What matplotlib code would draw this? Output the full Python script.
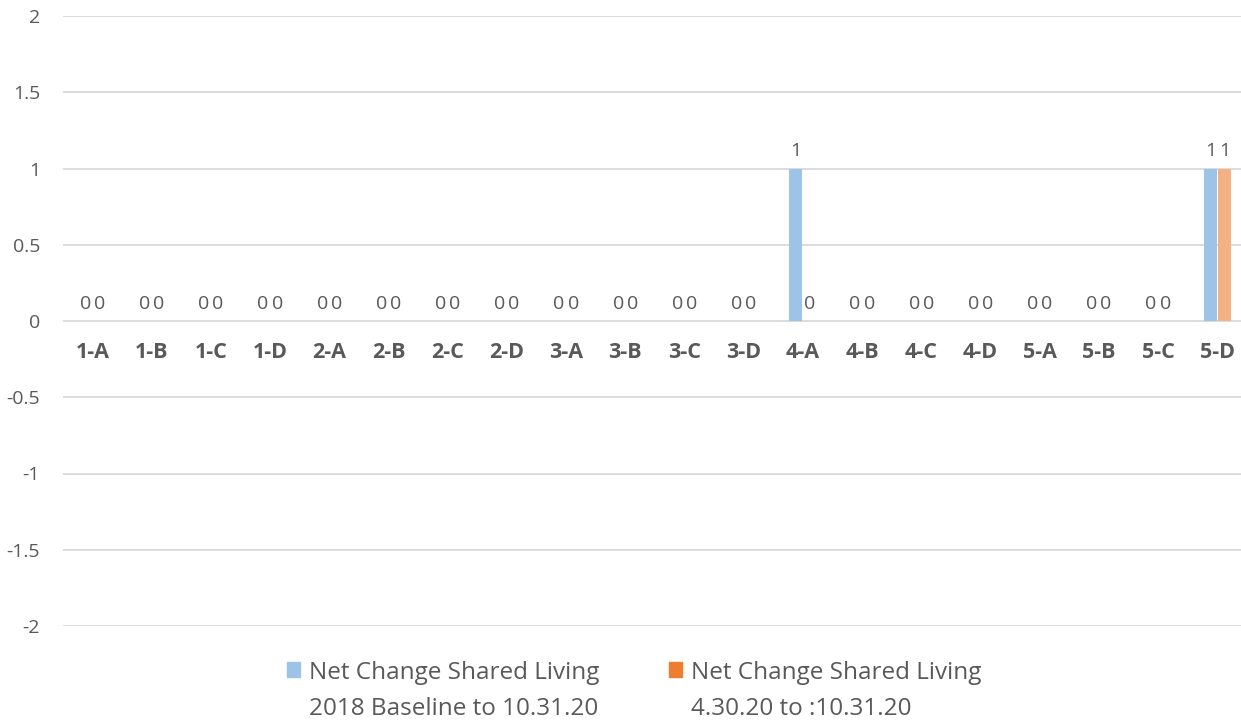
"""Net change in shared living by region, two comparison windows."""

import matplotlib

matplotlib.use("Agg")

import matplotlib.pyplot as plt
from matplotlib.patches import Rectangle
import numpy as np

categories = ["1-A", "1-B", "1-C", "1-D", "2-A", "2-B", "2-C", "2-D", "3-A", "3-B",
              "3-C", "3-D", "4-A", "4-B", "4-C", "4-D", "5-A", "5-B", "5-C", "5-D"]
baseline_change = [0, 0, 0, 0, 0, 0, 0, 0, 0, 0, 0, 0, 1, 0, 0, 0, 0, 0, 0, 1]
april_change = [0, 0, 0, 0, 0, 0, 0, 0, 0, 0, 0, 0, 0, 0, 0, 0, 0, 0, 0, 1]
series_names = ["Net Change Shared Living\n2018 Baseline to 10.31.20",
                "Net Change Shared Living\n4.30.20 to :10.31.20"]
y_ticks = [-2, -1.5, -1, -0.5, 0, 0.5, 1, 1.5, 2]

BLUE = "#9DC3E6"
ORANGE_BAR = "#F4B183"
ORANGE_KEY = "#ED7D31"
GREY = "#595959"

plt.rcParams["font.family"] = ["Open Sans", "DejaVu Sans"]

fig = plt.figure(figsize=(12.41, 7.21), dpi=100)
ax = fig.add_axes([63 / 1241, 95 / 721, 1184 / 1241, 610 / 721])

x = np.arange(len(categories))
width = 0.22
offset = 0.12
ax.bar(x - offset, baseline_change, width, color=BLUE, zorder=2)
ax.bar(x + offset, april_change, width, color=ORANGE_BAR, zorder=2)

for xi, val in zip(x - offset, baseline_change):
    ax.annotate(f"{val}", (xi, val), xytext=(0, 6), textcoords="offset points",
                ha="center", va="bottom", fontsize=14, color=GREY)
for xi, val in zip(x + offset, april_change):
    ax.annotate(f"{val}", (xi, val), xytext=(0, 6), textcoords="offset points",
                ha="center", va="bottom", fontsize=14, color=GREY)

for xi, name in zip(x, categories):
    ax.annotate(name, (xi, 0), xytext=(0, -23), textcoords="offset points",
                ha="center", va="center", fontsize=15.5, fontweight="bold", color=GREY)

ax.set_xlim(-0.5, len(categories) - 0.5)
ax.set_ylim(-2, 2)
ax.set_yticks(y_ticks)
ax.set_yticklabels([f"{t:g}" for t in y_ticks])
ax.set_xticks([])
ax.tick_params(axis="y", length=0, labelsize=14, labelcolor=GREY, pad=16.5)
ax.grid(axis="y", color="#D9D9D9", linewidth=1.3, zorder=0)
for spine in ax.spines.values():
    spine.set_visible(False)

# legend drawn by hand so the key sits beside the first text line
key_x = [287 / 1241, 669 / 1241]
for kx, color, name in zip(key_x, [BLUE, ORANGE_KEY], series_names):
    fig.patches.append(Rectangle((kx, 44 / 721), 13 / 1241, 15 / 721,
                                 transform=fig.transFigure, color=color))
    first, second = name.split("\n")
    fig.text(kx + 22 / 1241, 42 / 721, first, ha="left", va="baseline",
             fontsize=17.5, color=GREY)
    fig.text(kx + 22 / 1241, 6 / 721, second, ha="left", va="baseline",
             fontsize=17.5, color=GREY)

fig.savefig("out.png", dpi=100)
